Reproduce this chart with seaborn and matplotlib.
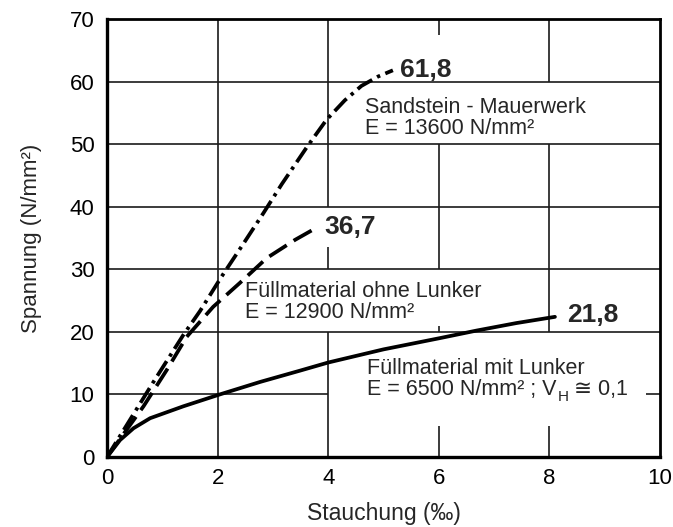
import matplotlib
matplotlib.use("Agg")
import matplotlib.pyplot as plt
import seaborn as sns
import pandas as pd

# ---------------- data ----------------
series_names = ["Sandstein - Mauerwerk", "Füllmaterial ohne Lunker", "Füllmaterial mit Lunker"]

sand_x = [0, 0.84, 1.38, 1.68, 2.07, 2.46, 2.83, 3.16, 3.62, 3.97, 4.3, 4.6, 4.9, 5.17]
sand_y = [0, 12.0, 19.5, 23.3, 28.8, 34.0, 39.0, 43.6, 49.6, 53.9, 57.0, 59.3, 60.8, 61.8]

ohne_x = [0, 0.66, 1.08, 1.44, 1.92, 2.4, 2.89, 3.4, 3.8]
ohne_y = [0, 8.1, 13.9, 19.2, 24.0, 27.8, 31.8, 34.7, 36.7]

mit_x = [0, 0.235, 0.48, 0.78, 1.38, 2.04, 2.77, 3.49, 4.0, 5.0, 6.02, 6.68, 7.4, 8.1]
mit_y = [0, 2.7, 4.6, 6.2, 8.1, 10.0, 12.0, 13.8, 15.1, 17.2, 19.0, 20.2, 21.4, 22.4]

peak_labels = ["61,8", "36,7", "21,8"]
desc_line2 = ["E = 13600 N/mm²", "E = 12900 N/mm²", "E = 6500 N/mm² ; V"]

x_ticks = [0, 2, 4, 6, 8, 10]
y_ticks = [0, 10, 20, 30, 40, 50, 60, 70]

# "masonry" grid segments (x, y_from, y_to) and (y, x_from, x_to)
v_segments = [(2, 0, 70),
              (4, 0, 20), (4, 30, 33.6), (4, 40, 70),
              (6, 0, 4.9), (6, 20, 20.9), (6, 30, 50), (6, 67.5, 70),
              (8, 0, 4.9), (8, 20, 50), (8, 60, 70)]
h_segments = [(10, 0, 4), (10, 9.75, 10),
              (20, 0, 10), (30, 0, 10), (40, 0, 10), (50, 0, 10), (60, 0, 10)]

# ---------------- frame ----------------
sns.set_style("white")
plt.rcParams["font.family"] = ["Liberation Sans", "DejaVu Sans"]

df = pd.concat([
    pd.DataFrame({"x": sand_x, "y": sand_y, "series": series_names[0]}),
    pd.DataFrame({"x": ohne_x, "y": ohne_y, "series": series_names[1]}),
    pd.DataFrame({"x": mit_x, "y": mit_y, "series": series_names[2]}),
], ignore_index=True)

fig = plt.figure(figsize=(6.73, 5.27), dpi=100)
ax = fig.add_axes([107/673, 1 - 457/527, (660 - 107)/673, (457 - 19)/527])

for xv, y0, y1 in v_segments:
    ax.vlines(xv, y0, y1, color="#1a1a1a", lw=1.2, zorder=1)
for yv, x0, x1 in h_segments:
    ax.hlines(yv, x0, x1, color="#1a1a1a", lw=1.2, zorder=1)

sns.lineplot(data=df, x="x", y="y", style="series", style_order=series_names,
             dashes={series_names[0]: (4.6, 1.5, 0.9, 1.5),
                     series_names[1]: (5.5, 2.2),
                     series_names[2]: ""},
             color="black", lw=2.7, sort=False, estimator=None, legend=False,
             ax=ax, zorder=3)

ax.set_xlim(0, 10)
ax.set_ylim(0, 70)
ax.set_xticks(x_ticks)
ax.set_yticks(y_ticks)
ax.tick_params(axis="both", length=0, labelsize=16, colors="black")
ax.tick_params(axis="x", pad=8)
ax.tick_params(axis="y", pad=9)
ax.set_xlabel("Stauchung (‰)", fontsize=16.5, labelpad=9)
ax.set_ylabel("Spannung (N/mm²)", fontsize=16)
ax.yaxis.set_label_coords(-0.118, 0.5)
for s in ax.spines.values():
    s.set_color("black")
    s.set_linewidth(2.0)
ax.spines["left"].set_linewidth(2.4)
ax.spines["bottom"].set_linewidth(2.4)

# peak value labels anchored at series end points
ends = [(sand_x[-1], sand_y[-1]), (ohne_x[-1], ohne_y[-1]), (mit_x[-1], mit_y[-1])]
offsets = [(5, 0), (5, 0), (9, 1)]
for (ex, ey), lab, off in zip(ends, peak_labels, offsets):
    ax.annotate(lab, xy=(ex, ey), xytext=off, textcoords="offset points",
                fontsize=19, fontweight="bold", va="center", ha="left", zorder=4)

# descriptions
desc_pos = [(4.67, 54.9, 51.6), (2.5, 25.5, 22.2), (4.71, 13.2, 9.9)]
txt_kw = dict(fontsize=15.5, va="baseline", ha="left", zorder=4)
for name, l2, (tx, y1, y2) in zip(series_names, desc_line2, desc_pos):
    ax.text(tx, y1, name, **txt_kw)
    t2 = ax.text(tx, y2, l2, **txt_kw)
last = t2
sub = ax.annotate("H", xy=(1, 0), xycoords=last, xytext=(0.3, -2.5),
                  textcoords="offset points", fontsize=11, va="bottom", ha="left", zorder=4)
ax.annotate(" ≅ 0,1", xy=(1, 0), xycoords=sub, xytext=(0, 2.5),
            textcoords="offset points", fontsize=15.5, va="bottom", ha="left", zorder=4,
            family=["Liberation Sans", "DejaVu Sans"])

fig.savefig("out.png", dpi=100, facecolor="white")
